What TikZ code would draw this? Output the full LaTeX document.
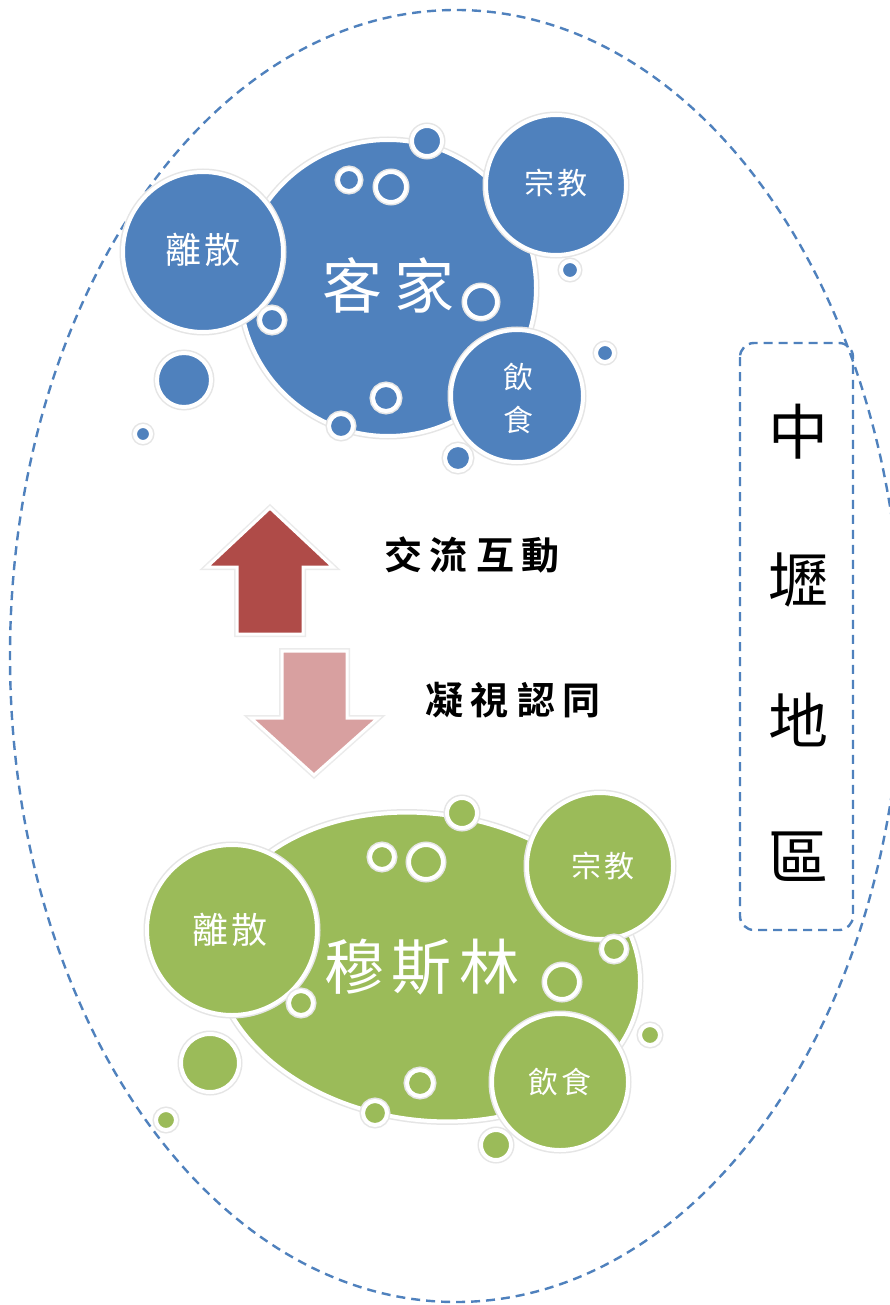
\documentclass[tikz,border=0pt]{standalone}
\usepackage{fontspec}
\newfontfamily\cjk{Noto Sans CJK TC}
\newfontfamily\cjkb{Noto Sans CJK TC Bold}
\definecolor{hblue}{HTML}{4F81BD}
\definecolor{hgreen}{HTML}{9BBB59}
\definecolor{ared}{HTML}{AF4B48}
\definecolor{apink}{HTML}{D8A0A0}
\tikzset{
  bub/.style={fill=#1, draw=white, line width=4pt, preaction={draw=black!10, line width=7pt}},
  wtext/.style={text=white, font=\cjk, inner sep=0pt},
  btext/.style={text=black, font=\cjk, inner sep=0pt},
  bbtext/.style={text=black, font=\cjkb, inner sep=0pt},
  dashline/.style={draw=hblue, line width=2.4pt, dash pattern=on 9pt off 6pt},
  arrowshape/.style={fill=#1, draw=white, line width=3pt, preaction={draw=black!8, line width=6pt}}
}
\newcommand{\fs}[1]{\fontsize{#1}{#1}\selectfont}
\begin{document}
\begin{tikzpicture}[x=1pt,y=-1pt]
\useasboundingbox (0,0) rectangle (890,1305);
\fill[white] (0,0) rectangle (890,1305);

% outer dashed ellipse
\draw[dashline] (456,656) ellipse [x radius=446pt, y radius=646pt];

% region box
\draw[dashline, rounded corners=14pt] (740,343) rectangle (853,930);
\node[btext] (z1) at (798,432) {\fs{60}中};
\node[btext] (z2) at (798,580) {\fs{60}壢};
\node[btext] (z3) at (798,720) {\fs{60}地};
\node[btext] (z4) at (798,857) {\fs{60}區};

% ===== Hakka cluster =====
\fill[bub=hblue] (388,288) circle (148pt);
\fill[bub=hblue] (203,252) circle (80pt);
\fill[bub=hblue] (556,185) circle (70pt);
\fill[bub=hblue] (517,396) circle (66pt);
\foreach \x/\y/\r in {427/141/15, 184/380/27, 143/434/8, 570/270/9, 605/353/9, 458/458/13,
                      349/180/11, 391/187/15, 481/302/16, 272/320/12, 386/398/13, 341/426/12}
  \fill[bub=hblue] (\x,\y) circle (\r pt);
\node[wtext] (hakka) at (388,285) {\fs{60}客\hspace{12pt}家};
\node[wtext] (hdisp) at (203,250) {\fs{36}離\hspace{4pt}散};
\node[wtext] (hrel) at (556,183) {\fs{30}宗\hspace{4pt}教};
\node[wtext] (hfood1) at (518,377) {\fs{30}飲};
\node[wtext] (hfood2) at (518,420) {\fs{30}食};

% ===== arrows =====
\path[arrowshape=ared] (270,508) -- (207,567) -- (237,567) -- (237,634) -- (303,634) -- (303,567) -- (333,567) -- cycle;
\path[arrowshape=apink] (282,651) -- (347,651) -- (347,718) -- (378,718) -- (314,775) -- (251,718) -- (282,718) -- cycle;
\node[bbtext] (t1) at (472,555) {\fs{38}交\hspace{8pt}流\hspace{8pt}互\hspace{8pt}動};
\node[bbtext] (t2) at (513,700) {\fs{38}凝\hspace{8pt}視\hspace{8pt}認\hspace{8pt}同};

% ===== Muslim cluster =====
\fill[bub=hgreen, rotate around={-8:(427,967)}] (427,967) ellipse [x radius=214pt, y radius=153pt];
\fill[bub=hgreen] (232,930) circle (85pt);
\fill[bub=hgreen] (600,866) circle (73pt);
\fill[bub=hgreen] (560,1082) circle (68pt);
\foreach \x/\y/\r in {462/813/15, 210/1063/29, 166/1120/10, 650/1035/10, 496/1145/15,
                      382/857/12, 426/862/17, 614/949/12, 562/982/17, 301/1003/12, 420/1083/13, 375/1113/12}
  \fill[bub=hgreen] (\x,\y) circle (\r pt);
\node[wtext] (muslim) at (422,967) {\fs{60}穆\hspace{8pt}斯\hspace{8pt}林};
\node[wtext] (mdisp) at (230,930) {\fs{36}離\hspace{4pt}散};
\node[wtext] (mrel) at (603,866) {\fs{30}宗\hspace{4pt}教};
\node[wtext] (mfood) at (560,1082) {\fs{30}飲\hspace{4pt}食};
\end{tikzpicture}
\end{document}
